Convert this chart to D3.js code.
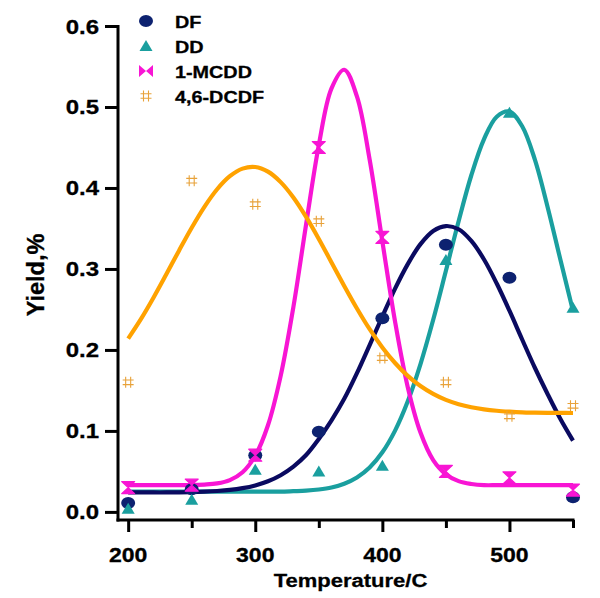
<!DOCTYPE html>
<html><head><meta charset="utf-8">
<script src="https://cdn.jsdelivr.net/npm/d3@7/dist/d3.min.js"></script>
<style>
html,body{margin:0;padding:0;background:#fff;}
svg{display:block;}
text{font-family:"Liberation Sans",Arial,Helvetica,sans-serif;font-weight:bold;fill:#000;stroke:#000;stroke-width:0.35px;}
</style></head>
<body><svg id="c" width="600" height="598"></svg>
<script>
// ---- data ----
const temps = [200, 250, 300, 350, 400, 450, 500, 550];
const dfVals    = [0.011, 0.028, 0.070, 0.099, 0.239, 0.330, 0.289, 0.018];
const ddVals    = [0.004, 0.015, 0.052, 0.050, 0.057, 0.311, 0.493, 0.252];
const mcddVals  = [0.030, 0.033, 0.070, 0.450, 0.339, 0.050, 0.042, 0.027];
const dcdfVals  = [0.160, 0.409, 0.380, 0.359, 0.190, 0.160, 0.118, 0.131];

// fitted curves, every 10 C
const fitT = [200,210,220,230,240,250,260,270,280,290,300,310,320,330,340,350,360,370,380,390,400,410,420,430,440,450,460,470,480,490,500,510,520,530,540,550];
const dfFit   = [0.024,0.024,0.024,0.024,0.0242,0.0245,0.025,0.0258,0.0271,0.0293,0.0327,0.0378,0.0453,0.0559,0.0702,0.090,0.113,0.1396,0.1713,0.206,0.2413,0.2757,0.306,0.3307,0.347,0.353,0.349,0.3346,0.3117,0.282,0.2484,0.2129,0.178,0.1456,0.115,0.088];
const ddFit   = [0.025,0.025,0.025,0.025,0.025,0.025,0.025,0.025,0.025,0.025,0.025,0.025,0.025,0.0256,0.0263,0.0277,0.0302,0.0348,0.0425,0.0548,0.0736,0.1004,0.1366,0.1826,0.2372,0.2977,0.359,0.4157,0.4604,0.488,0.4945,0.4762,0.435,0.3766,0.312,0.248];
const mcddFit = [0.033,0.033,0.033,0.033,0.033,0.033,0.0337,0.0352,0.0393,0.049,0.0694,0.107,0.168,0.253,0.355,0.453,0.523,0.546,0.513,0.435,0.334,0.235,0.154,0.098,0.064,0.0464,0.038,0.0345,0.033,0.033,0.033,0.033,0.033,0.033,0.033,0.033];
const dcdfFit = [0.214,0.238,0.2648,0.2934,0.3226,0.3509,0.3767,0.3984,0.4145,0.4239,0.4259,0.4201,0.4072,0.3882,0.3642,0.337,0.308,0.279,0.2512,0.2256,0.2031,0.1839,0.168,0.1554,0.1457,0.1383,0.133,0.1292,0.1266,0.1249,0.1238,0.123,0.1226,0.1223,0.1222,0.1221];

const seriesNames = ["DF", "DD", "1-MCDD", "4,6-DCDF"];
const xMajorTicks = [200, 300, 400, 500];
const xMinorTicks = [250, 350, 450, 550];
const yTicks = [0.0, 0.1, 0.2, 0.3, 0.4, 0.5, 0.6];
const xTitle = "Temperature/C";
const yTitle = "Yield,%";

// ---- drawing ----
const svg = d3.select("#c");
const x = d3.scaleLinear().domain([192, 550]).range([118, 573]);
const y = d3.scaleLinear().domain([-0.01, 0.6]).range([520, 26]);
const SQ = 0.86; // vertical squash of the text in the reference

const colors = {navyLine:"#0a0a60", navy:"#0d2270", teal:"#1a9f9f", magenta:"#f815d4", orange:"#ffa200", hash:"#e8a23a"};

const series = [
  {name:seriesNames[0], vals:dfVals,   fit:dfFit,   line:colors.navyLine, col:colors.navy,   shape:"circle"},
  {name:seriesNames[1], vals:ddVals,   fit:ddFit,   line:colors.teal,     col:colors.teal,   shape:"triangle"},
  {name:seriesNames[2], vals:mcddVals, fit:mcddFit, line:colors.magenta,  col:colors.magenta,shape:"hourglass"},
  {name:seriesNames[3], vals:dcdfVals, fit:dcdfFit, line:colors.orange,   col:colors.hash,   shape:"hash"}
];

// curves
const lineGen = d3.line().x((d,i)=>x(fitT[i])).y(d=>y(d)).curve(d3.curveCatmullRom.alpha(0.5));
const curveOrder = [1,0,2,3];
curveOrder.forEach(k=>{
  const s = series[k];
  svg.append("path").attr("d", lineGen(s.fit)).attr("fill","none")
    .attr("stroke", s.line).attr("stroke-width",4.2).attr("stroke-linejoin","round");
});

function marker(g, shape, cx, cy, col, legend){
  if(shape==="circle"){
    g.append("ellipse").attr("cx",cx).attr("cy",cy).attr("rx",7).attr("ry",6).attr("fill",col);
  } else if(shape==="triangle"){
    g.append("path").attr("d",`M${cx},${cy-6}L${cx+6.5},${cy+5}L${cx-6.5},${cy+5}Z`).attr("fill",col);
  } else if(shape==="hourglass"){
    if(legend){
      g.append("path").attr("d",`M${cx-7},${cy-6}L${cx},${cy}L${cx-7},${cy+6}Z M${cx+7},${cy-6}L${cx},${cy}L${cx+7},${cy+6}Z`).attr("fill",col);
    } else {
      g.append("path").attr("d",`M${cx-6.5},${cy-6}L${cx+6.5},${cy-6}L${cx},${cy}Z M${cx-6.5},${cy+6}L${cx+6.5},${cy+6}L${cx},${cy}Z`).attr("fill",col)
        .attr("stroke",col).attr("stroke-width",1.2).attr("stroke-linejoin","round");
    }
  } else if(shape==="hash"){
    const p = `M${cx-2.5},${cy-5.5}V${cy+5.5} M${cx+2.5},${cy-5.5}V${cy+5.5} M${cx-5.5},${cy-2.3}H${cx+5.5} M${cx-5.5},${cy+2.3}H${cx+5.5}`;
    g.append("path").attr("d",p).attr("stroke",col).attr("stroke-width",1.1).attr("fill","none");
  }
}

// points
series.forEach(s=>{
  const g = svg.append("g");
  s.vals.forEach((v,i)=> marker(g, s.shape, x(temps[i]), y(v), s.col, false));
});

// axes
const yAxis = d3.axisLeft(y).tickValues(yTicks).tickSize(13).tickSizeOuter(0).tickFormat("");
const yg = svg.append("g").attr("transform","translate(118,0)").call(yAxis);
const xAxisMaj = d3.axisBottom(x).tickValues(xMajorTicks).tickSize(12).tickSizeOuter(0).tickFormat("");
const xg = svg.append("g").attr("transform","translate(0,520)").call(xAxisMaj);
const xAxisMin = d3.axisBottom(x).tickValues(xMinorTicks).tickSize(8).tickSizeOuter(0).tickFormat("");
const xg2 = svg.append("g").attr("transform","translate(0,520)").call(xAxisMin);
xg2.select(".domain").remove();
[yg,xg,xg2].forEach(g=>{
  g.selectAll("path,line").attr("stroke","#000").attr("stroke-width",3);
});
yg.select(".domain").attr("d","M0,521.5V25");
xg.select(".domain").attr("d","M116.5,0H574.5");

function sqText(px, py, str, size, anchor, sq){
  return svg.append("text").attr("transform",`translate(${px},${py}) scale(1,${sq})`)
    .attr("text-anchor",anchor).attr("font-size",size).text(str);
}
yTicks.forEach(t=> sqText(99, y(t)+7.5, d3.format(".1f")(t), "24px", "end", SQ));
xMajorTicks.forEach(t=> sqText(x(t), 562, String(t), "23px", "middle", SQ));
sqText(350.5, 587, xTitle, "22px", "middle", 0.8);
svg.append("text").attr("transform","translate(44,275) rotate(-90)").attr("text-anchor","middle")
  .attr("font-size","23.5px").text(yTitle);

// legend
const legY = [21, 46, 71, 96];
series.forEach((s,i)=>{
  const g = svg.append("g");
  marker(g, s.shape, 146, legY[i], s.col, true);
  sqText(175, legY[i]+6.8, s.name, "19.8px", "start", 0.86);
});
</script></body></html>
